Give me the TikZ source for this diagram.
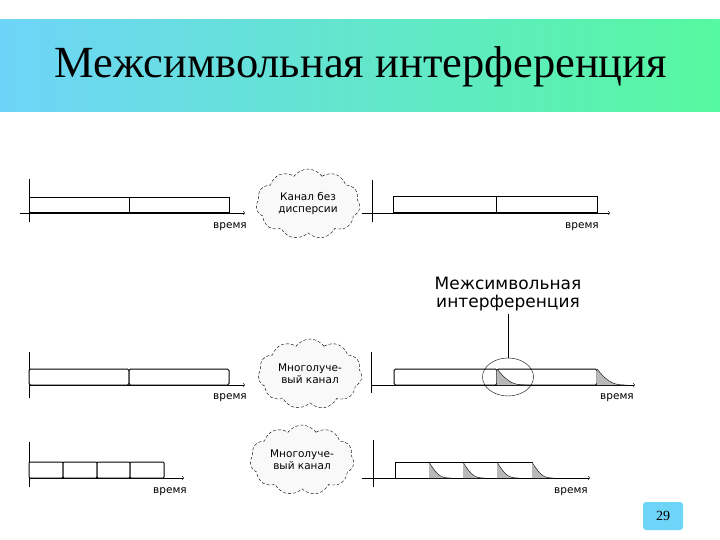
\documentclass[tikz,border=0pt]{standalone}
\usepackage{fontspec}
\setmainfont{Liberation Serif}
\newfontfamily\gothfont{DejaVu Sans}
\usetikzlibrary{shapes.symbols, shapes.geometric}

\definecolor{bandblue}{RGB}{110,212,248}
\definecolor{bandgreen}{RGB}{86,248,160}

\tikzset{
  axis/.style={->, line width=0.5pt},
  slot/.style={draw, line width=1pt, fill=white},
  isi/.style={fill=gray!55},
  chan/.style={cloud, cloud puffs=11, cloud puff arc=110, aspect=1.6, draw,
    densely dashed, fill=gray!5, inner sep=0pt, minimum width=104pt,
    minimum height=70pt, align=center,
    font=\gothfont\fontsize{10.5}{12}\selectfont},
  tlabel/.style={font=\gothfont\fontsize{10.5}{10.5}\selectfont}
}

% gray tail of a smeared symbol: x, top, bottom, width
\newcommand{\isitail}[4]{%
  \fill[isi] (#1,#2) .. controls (#1+0.4*#4,#3-1) and (#1+0.6*#4,#3) .. (#1+#4,#3) -- (#1,#3) -- cycle;
  \draw (#1,#2) .. controls (#1+0.4*#4,#3-1) and (#1+0.6*#4,#3) .. (#1+#4,#3);}

\begin{document}
\begin{tikzpicture}[x=1pt, y=-1pt]
  \useasboundingbox (0,0) rectangle (720,540);
  % title band
  \shade[left color=bandblue, right color=bandgreen] (0,20) rectangle (720,112);
  \node (title) at (361,67) {\fontsize{44.5}{44.5}\selectfont Межсимвольная интерференция};

  % row 1: channel without dispersion
  \draw (29,179) -- (29,222);
  \draw[axis] (20,213) -- (245,213);
  \foreach \a/\b in {29/129, 129/229}
    \draw[slot] (\a,198) rectangle (\b,213);
  \node[tlabel] (time1) at (230,227) {время};
  \node[chan] (chan1) at (308,204) {Канал без\\дисперсии};

  \draw (372,180) -- (372,222);
  \draw[axis] (362,213) -- (610,213);
  \foreach \a/\b in {393/496, 496/597}
    \draw[slot] (\a,197) rectangle (\b,213);
  \node[tlabel] (time2) at (582,227) {время};

  % row 2: multipath channel, long symbols
  \draw (29,352) -- (29,398);
  \draw[axis] (29,385) -- (245,385);
  \foreach \a/\b in {29/129, 129/229}
    \draw[slot, rounded corners=1.5pt] (\a,369) rectangle (\b,385);
  \node[tlabel] (time3) at (230,398) {время};
  \node[chan] (chan2) at (310,374) {Многолуче-\\вый канал};

  \draw (371,352) -- (371,393);
  \draw[axis] (371,385) -- (635,385);
  \foreach \a/\b in {394/497, 497/597}
    \draw[slot, rounded corners=1.5pt] (\a,369) rectangle (\b,385);
  \isitail{497}{369}{385}{30}
  \isitail{597}{369}{385}{30}
  \node[tlabel] (time4) at (617,398) {время};

  \node[font=\gothfont\fontsize{17}{18}\selectfont, align=center] (isilbl) at (508,294)
    {Межсимвольная\\интерференция};
  \node[draw, ellipse, minimum width=51pt, minimum height=38pt, inner sep=0pt] (ring) at (508,377) {};
  \draw (isilbl) -- (ring);

  % row 3: multipath channel, short symbols
  \draw (29,442) -- (29,487);
  \draw[axis] (29,478) -- (184,478);
  \foreach \a/\b in {29/63, 63/97, 97/130, 130/164}
    \draw[slot, rounded corners=1pt] (\a,462) rectangle (\b,478);
  \node[tlabel] (time5) at (170,492) {время};
  \node[chan] (chan3) at (302,460) {Многолуче-\\вый канал};

  \draw (373,440) -- (373,487);
  \draw[axis] (362,478) -- (590,478);
  \foreach \a/\b in {395/429, 429/463, 463/497, 497/532}
    \draw[slot] (\a,462) rectangle (\b,478);
  \foreach \a in {429, 463, 497, 532}
    {\isitail{\a}{462}{478}{22}}
  \node[tlabel] (time6) at (571,492) {время};

  % page number
  \node[fill=bandblue, rounded corners=3pt, minimum width=40pt, minimum height=28pt,
    font=\fontsize{14}{14}\selectfont] (page) at (663,516) {29};
\end{tikzpicture}
\end{document}
